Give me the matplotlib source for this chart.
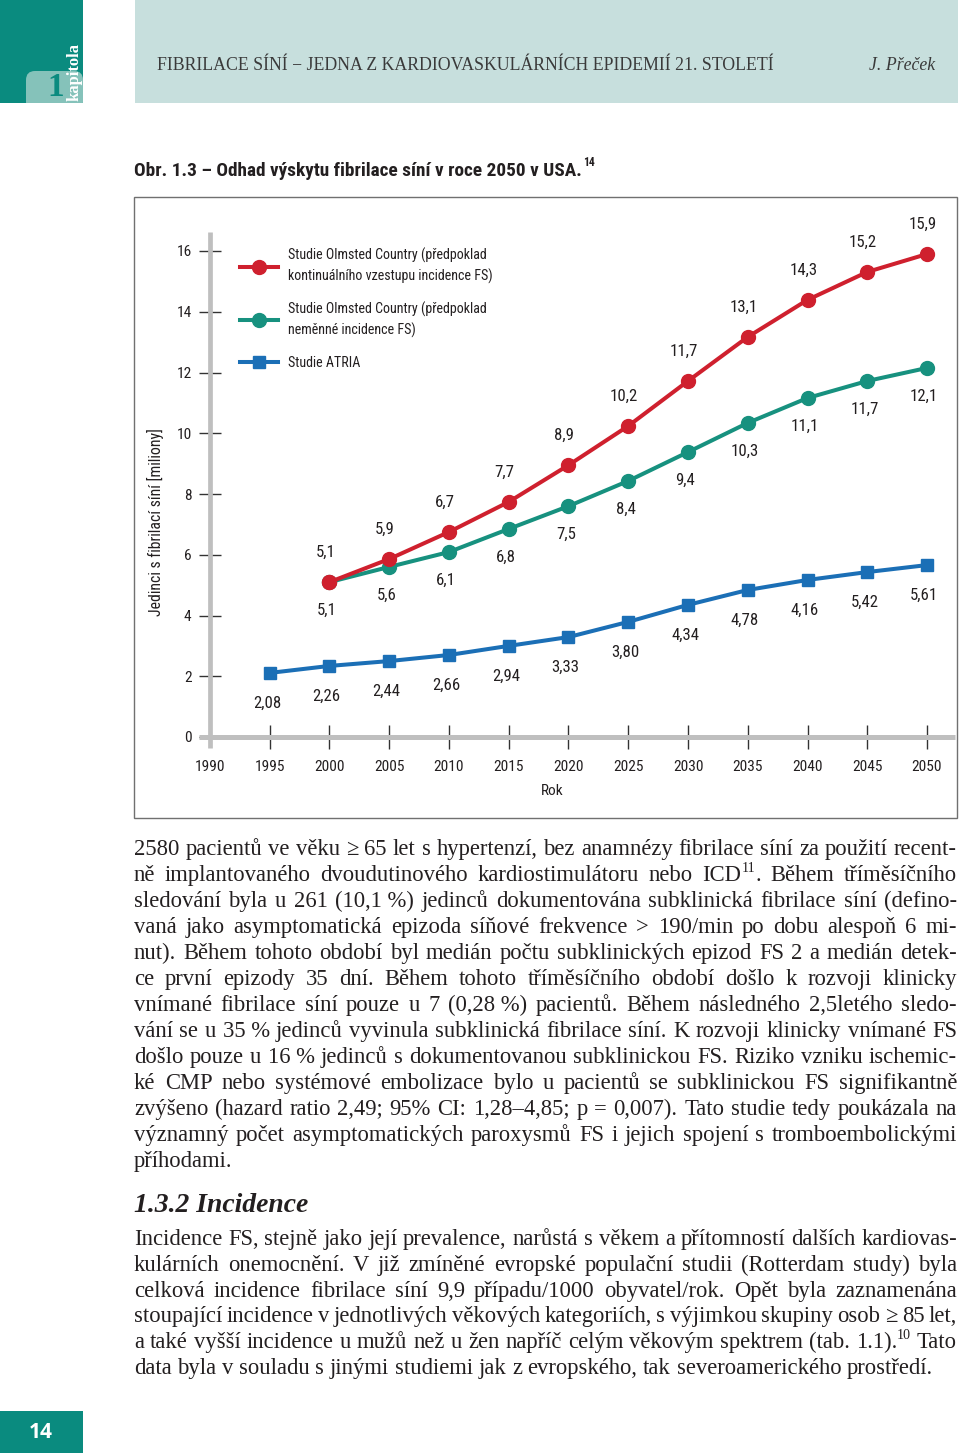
import matplotlib
matplotlib.use('Agg')
import matplotlib.pyplot as plt
from matplotlib import font_manager
from matplotlib.font_manager import FontProperties
from matplotlib.patches import Rectangle, FancyBboxPatch
from matplotlib.lines import Line2D

# data (marker heights) and the printed labels
olmsted_years = [2000, 2005, 2010, 2015, 2020, 2025, 2030, 2035, 2040, 2045, 2050]
rise_vals = [5.1, 5.86, 6.75, 7.74, 8.95, 10.24, 11.72, 13.17, 14.39, 15.31, 15.9]
rise_text = ['5,1', '5,9', '6,7', '7,7', '8,9', '10,2', '11,7', '13,1', '14,3', '15,2', '15,9']
flat_vals = [5.1, 5.6, 6.09, 6.85, 7.6, 8.43, 9.38, 10.34, 11.16, 11.72, 12.15]
flat_text = ['5,1', '5,6', '6,1', '6,8', '7,5', '8,4', '9,4', '10,3', '11,1', '11,7', '12,1']
atria_years = [1995, 2000, 2005, 2010, 2015, 2020, 2025, 2030, 2035, 2040, 2045, 2050]
atria_vals = [2.11, 2.34, 2.5, 2.7, 3.0, 3.29, 3.79, 4.35, 4.84, 5.17, 5.43, 5.66]
atria_text = ['2,08', '2,26', '2,44', '2,66', '2,94', '3,33', '3,80', '4,34', '4,78', '4,16', '5,42', '5,61']

legend_labels = ['Studie Olmsted Country (předpoklad\nkontinuálního vzestupu incidence FS)',
                 'Studie Olmsted Country (předpoklad\nneměnné incidence FS)',
                 'Studie ATRIA']
x_ticks = list(range(1990, 2051, 5))
y_ticks = list(range(0, 17, 2))

para1 = [
    '2580 pacientů ve věku ≥ 65 let s hypertenzí, bez anamnézy fibrilace síní za použití recent-',
    'ně implantovaného dvoudutinového kardiostimulátoru nebo ICD^11^. Během tříměsíčního',
    'sledování byla u 261 (10,1\u00a0%) jedinců dokumentována subklinická fibrilace síní (defino-',
    'vaná jako asymptomatická epizoda síňové frekvence > 190/min po dobu alespoň 6 mi-',
    'nut). Během tohoto období byl medián počtu subklinických epizod FS 2 a medián detek-',
    'ce první epizody 35 dní. Během tohoto tříměsíčního období došlo k rozvoji klinicky',
    'vnímané fibrilace síní pouze u 7 (0,28\u00a0%) pacientů. Během následného 2,5letého sledo-',
    'vání se u 35\u00a0% jedinců vyvinula subklinická fibrilace síní. K rozvoji klinicky vnímané FS',
    'došlo pouze u 16\u00a0% jedinců s dokumentovanou subklinickou FS. Riziko vzniku ischemic-',
    'ké CMP nebo systémové embolizace bylo u pacientů se subklinickou FS signifikantně',
    'zvýšeno (hazard ratio 2,49; 95% CI: 1,28–4,85; p = 0,007). Tato studie tedy poukázala na',
    'významný počet asymptomatických paroxysmů FS i jejich spojení s tromboembolickými',
    'příhodami.',
]
para2 = [
    'Incidence FS, stejně jako její prevalence, narůstá s věkem a přítomností dalších kardiovas-',
    'kulárních onemocnění. V již zmíněné evropské populační studii (Rotterdam study) byla',
    'celková incidence fibrilace síní 9,9 případu/1000 obyvatel/rok. Opět byla zaznamenána',
    'stoupající incidence v jednotlivých věkových kategoriích, s výjimkou skupiny osob ≥ 85 let,',
    'a také vyšší incidence u mužů než u žen napříč celým věkovým spektrem (tab. 1.1).^10^ Tato',
    'data byla v souladu s jinými studiemi jak z evropského, tak severoamerického prostředí.',
]

RED = '#cf202e'
TEAL = '#17917f'
BLUE = '#1b6fb6'
GREY = '#bfbfbf'
DARK_TEAL = '#0a8b7f'
INK = '#231f20'


def pick_font(names):
    for n in names:
        try:
            font_manager.findfont(FontProperties(family=n), fallback_to_default=False)
            return n
        except ValueError:
            continue
    return 'DejaVu Sans'


COND = pick_font(['Liberation Sans Narrow', 'Roboto Condensed', 'Open Sans Condensed', 'Liberation Sans'])
SANS = [COND, 'DejaVu Sans']
SERIF = ['Liberation Serif', 'DejaVu Serif']

fig = plt.figure(figsize=(9.6, 14.53), dpi=100)
renderer = fig.canvas.get_renderer()

page = fig.add_axes([0, 0, 1, 1])
page.set_xlim(0, 960)
page.set_ylim(1453, 0)
page.axis('off')


def measure(s, size, **kw):
    t = page.text(0, 0, s, fontsize=size, **kw)
    w = t.get_window_extent(renderer).width
    t.remove()
    return w


def fit_size(s, width, size0=12, **kw):
    return size0 * width / measure(s, size0, **kw)


# sizes of the chart texts fitted to the widths seen on the page
tick_sz = fit_size('2050', 30, family=SANS)
val_sz = fit_size('15,9', 28, family=SANS)
leg_sz = fit_size('kontinuálního vzestupu incidence FS)', 206, family=SANS)
ylab_sz = fit_size('Jedinci s fibrilací síní [miliony]', 189, family=SANS)
leg_px = leg_sz * 100 / 72

# ---- header
page.add_patch(Rectangle((0, 0), 83, 103, fc=DARK_TEAL, ec='none'))
page.add_patch(FancyBboxPatch((26, 71), 57, 40, boxstyle='round,pad=0,rounding_size=9',
                              fc='#85c2ba', ec='none'))
page.add_patch(Rectangle((0, 103), 90, 20, fc='white', ec='none'))
page.text(56, 88, '1', fontsize=24, fontweight='bold', color=DARK_TEAL, family=SERIF,
          ha='center', va='center')
ks = fit_size('kapitola', 58, fontweight='bold', family=SERIF)
page.text(75, 72, 'kapitola', fontsize=ks, fontweight='bold', color='white', family=SERIF,
          rotation=90, ha='center', va='center')
page.add_patch(Rectangle((135, 0), 823, 103, fc='#c7dfdd', ec='none'))
head = 'FIBRILACE SÍNÍ − JEDNA Z KARDIOVASKULÁRNÍCH EPIDEMIÍ 21. STOLETÍ'
hs = fit_size(head, 614, family=SERIF)
page.text(157, 66, head, fontsize=hs, family=SERIF, color='#3a3a3a', va='center')
page.text(935, 66, 'J. Přeček', fontsize=hs, family=SERIF, style='italic', color='#3a3a3a',
          va='center', ha='right')

# ---- figure caption
cap = 'Obr. 1.3 – Odhad výskytu fibrilace síní v roce 2050 v USA.'
tsz = fit_size(cap, 448, fontweight='bold', family=SANS)
page.text(134, 171, cap, fontsize=tsz, fontweight='bold', family=SANS, color=INK, va='center')
page.text(134 + 449, 163, '14', fontsize=tsz * 0.6, fontweight='bold', family=SANS, color=INK,
          va='center')

# ---- chart
page.add_patch(Rectangle((134, 197), 823, 621, fill=False, ec='#707070', lw=1))

px_year = 11.95
px_unit = 30.375
x_left, x_right, y_bottom, y_top = 210, 955, 737, 232
ax = fig.add_axes([x_left / 960, (1453 - y_bottom) / 1453,
                   (x_right - x_left) / 960, (y_bottom - y_top) / 1453])
xmax = 1990 + (x_right - x_left) / px_year
ymax = (y_bottom - y_top) / px_unit
ax.set_xlim(1990, xmax)
ax.set_ylim(0, ymax)
ax.patch.set_alpha(0)
for s in ax.spines.values():
    s.set_visible(False)

# grey axis bars
ax.plot([1990, 1990], [-11 / px_unit, ymax], color=GREY, lw=3.4, solid_capstyle='butt',
        clip_on=False, zorder=2)
ax.plot([1990 - 11 / px_year, xmax], [0, 0], color=GREY, lw=3.6, solid_capstyle='butt',
        clip_on=False, zorder=2)

ax.set_yticks(y_ticks)
ax.set_yticklabels([str(v) for v in y_ticks])
ax.tick_params(axis='y', direction='inout', length=16.5, width=1.0, color='#333333', pad=5,
               labelsize=tick_sz, labelcolor=INK)
ax.set_xticks(x_ticks)
ax.set_xticklabels([str(v) for v in x_ticks])
ax.tick_params(axis='x', direction='inout', length=17.5, width=1.0, color='#333333', pad=7.5,
               labelsize=tick_sz, labelcolor=INK)
ax.xaxis.get_major_ticks()[0].tick1line.set_visible(False)
for lab in ax.get_xticklabels() + ax.get_yticklabels():
    lab.set_family(SANS)

ax.plot(olmsted_years, rise_vals, color=RED, lw=2.9, marker='o', ms=10, zorder=4, clip_on=False)
ax.plot(olmsted_years, flat_vals, color=TEAL, lw=2.9, marker='o', ms=10, zorder=3, clip_on=False)
ax.plot(atria_years, atria_vals, color=BLUE, lw=2.9, marker='s', ms=9, zorder=3, clip_on=False)
# first red point sits on top of the teal one
ax.plot(olmsted_years[:1], rise_vals[:1], color=RED, marker='o', ms=10, zorder=5)

lab_kw = dict(textcoords='offset points', ha='center', va='center', fontsize=val_sz,
              family=SANS, color=INK)
for x, y, t in zip(olmsted_years, rise_vals, rise_text):
    ax.annotate(t, (x, y), xytext=(-3, 21.5), **lab_kw)
for x, y, t in zip(olmsted_years, flat_vals, flat_text):
    ax.annotate(t, (x, y), xytext=(-2, -20.5), **lab_kw)
for x, y, t in zip(atria_years, atria_vals, atria_text):
    ax.annotate(t, (x, y), xytext=(-2, -22), **lab_kw)

handles = [Line2D([], [], color=RED, lw=2.9, marker='o', ms=10),
           Line2D([], [], color=TEAL, lw=2.9, marker='o', ms=10),
           Line2D([], [], color=BLUE, lw=2.9, marker='s', ms=9)]
leg = ax.legend(handles, legend_labels, loc='upper left', bbox_to_anchor=(240, 248),
                bbox_transform=page.transData, frameon=False, borderpad=0, borderaxespad=0,
                handlelength=38 / leg_px, handletextpad=10 / leg_px,
                labelspacing=1.27, prop=FontProperties(family=SANS, size=leg_sz))
for t in leg.get_texts():
    t.set_color(INK)
    t.set_linespacing(1.44)

page.text(155, 522, 'Jedinci s fibrilací síní [miliony]', rotation=90, ha='center', va='center',
          fontsize=ylab_sz, family=SANS, color=INK)
page.text(552, 791, 'Rok', ha='center', va='center', fontsize=tick_sz, family=SANS, color=INK)

# ---- body text, justified
X0, X1 = 134, 957


def parts(tok):
    return [(p, i % 2 == 1) for i, p in enumerate(tok.split('^')) if p]


def tok_width(tok, size):
    return sum(measure(p, size * (0.62 if sup else 1), family=SERIF) for p, sup in parts(tok))


def draw_tok(tok, x, y, size):
    for p, sup in parts(tok):
        s = size * 0.62 if sup else size
        dy = -size * 0.42 * 100 / 72 if sup else 0
        page.text(x, y + dy, p, fontsize=s, family=SERIF, color=INK, va='baseline', ha='left')
        x += measure(p, s, family=SERIF)


def space_width(size):
    return measure('x x', size, family=SERIF) - measure('xx', size, family=SERIF)


def paragraph(lines, y0, step, size):
    sp = space_width(size)
    for i, line in enumerate(lines):
        words = line.split(' ')
        widths = [tok_width(w, size) for w in words]
        if i == len(lines) - 1:
            gap = sp
        else:
            gap = (X1 - X0 - sum(widths)) / (len(words) - 1)
        x = X0
        for w, wd in zip(words, widths):
            draw_tok(w, x, y0 + i * step, size)
            x += wd + gap


# largest body size at which every justified line keeps spaces >= 75 % of normal
base = 14.0
sp0 = space_width(base)
need = 0
for l in para1[:-1] + para2[:-1]:
    ws = l.split(' ')
    need = max(need, sum(tok_width(w, base) for w in ws) + 0.75 * sp0 * (len(ws) - 1))
body = base * (X1 - X0) / need
paragraph(para1, 855, 26.0, body)

hsz = fit_size('1.3.2 Incidence', 174, fontweight='bold', style='italic', family=SERIF)
page.text(134, 1212, '1.3.2 Incidence', fontsize=hsz, fontweight='bold', style='italic',
          family=SERIF, color=INK, va='baseline')
paragraph(para2, 1245, 25.8, body)

# ---- page number
page.add_patch(Rectangle((0, 1411), 83, 42, fc=DARK_TEAL, ec='none'))
page.text(41, 1432, '14', fontsize=15, fontweight='bold', color='white', family=['Open Sans', 'DejaVu Sans'],
          ha='center', va='center')

fig.savefig('out.png', dpi=100)
